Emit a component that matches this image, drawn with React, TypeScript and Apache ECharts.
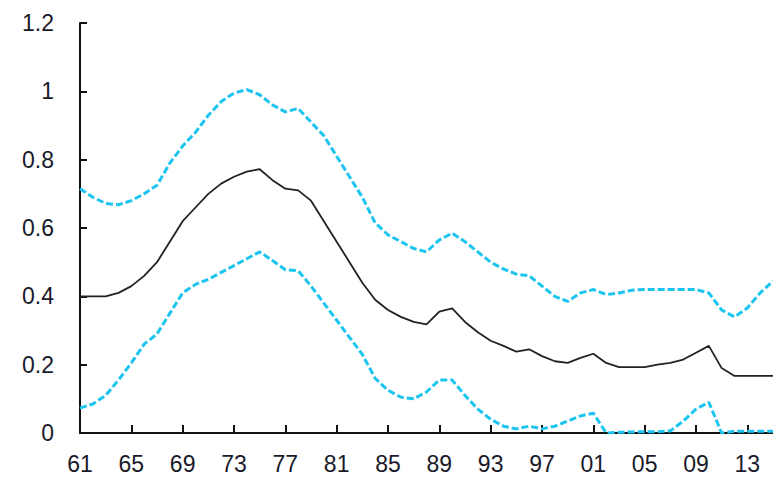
import React, { useEffect, useRef } from "react";
import * as echarts from "echarts";

const years: string[] = [];
for (let y = 1961; y <= 2015; y++) years.push(String(y));

const center = [
  0.40, 0.40, 0.40, 0.41, 0.43, 0.46, 0.50, 0.56, 0.62, 0.66,
  0.70, 0.73, 0.75, 0.765, 0.772, 0.74, 0.715, 0.71, 0.68, 0.62,
  0.56, 0.50, 0.44, 0.39, 0.36, 0.34, 0.325, 0.318, 0.355, 0.365,
  0.325, 0.295, 0.27, 0.255, 0.238, 0.245, 0.225, 0.21, 0.205, 0.22,
  0.232, 0.205, 0.193, 0.193, 0.193, 0.2, 0.205, 0.215, 0.235, 0.255,
  0.19, 0.167, 0.167, 0.167, 0.167,
];

const upper = [
  0.715, 0.69, 0.672, 0.668, 0.68, 0.70, 0.725, 0.79, 0.84, 0.88,
  0.93, 0.97, 0.995, 1.005, 0.99, 0.96, 0.94, 0.95, 0.91, 0.87,
  0.81, 0.75, 0.69, 0.615, 0.58, 0.56, 0.54, 0.53, 0.565, 0.585,
  0.56, 0.53, 0.50, 0.48, 0.465, 0.46, 0.43, 0.40, 0.385, 0.41,
  0.42, 0.405, 0.41, 0.418, 0.42, 0.42, 0.42, 0.42, 0.42, 0.41,
  0.36, 0.34, 0.366, 0.41, 0.445,
];

const lower = [
  0.073, 0.085, 0.11, 0.155, 0.205, 0.26, 0.29, 0.35, 0.41, 0.435,
  0.45, 0.47, 0.49, 0.51, 0.53, 0.505, 0.478, 0.475, 0.43, 0.38,
  0.33, 0.28, 0.23, 0.16, 0.125, 0.105, 0.1, 0.12, 0.155, 0.155,
  0.11, 0.07, 0.04, 0.02, 0.012, 0.02, 0.012, 0.02, 0.035, 0.05,
  0.058, 0.0, 0.002, 0.003, 0.004, 0.004, 0.006, 0.035, 0.07, 0.09,
  0.0, 0.005, 0.005, 0.005, 0.005,
];

const labelFont = "'Liberation Sans', Arial, sans-serif";

export default function App() {
  const ref = useRef<HTMLDivElement>(null);
  useEffect(() => {
    if (!ref.current) return;
    const chart = echarts.init(ref.current, undefined, { renderer: "svg" });
    chart.setOption({
      animation: false,
      backgroundColor: "#ffffff",
      grid: { left: 80, right: 0, top: 23, bottom: 50, containLabel: false },
      xAxis: {
        type: "category",
        data: years,
        boundaryGap: false,
        axisLine: { lineStyle: { color: "#111", width: 2 } },
        axisTick: { inside: true, length: 8, interval: 3, lineStyle: { color: "#111", width: 2 } },
        axisLabel: {
          interval: 3,
          margin: 19,
          formatter: (v: string) => v.slice(2),
          color: "#1a1a2a",
          fontSize: 23,
          fontFamily: labelFont,
        },
        splitLine: { show: false },
      },
      yAxis: {
        type: "value",
        min: 0,
        max: 1.2,
        interval: 0.2,
        axisLine: { show: true, lineStyle: { color: "#111", width: 2 } },
        axisTick: { show: true, inside: true, length: 7, lineStyle: { color: "#111", width: 2 } },
        axisLabel: {
          margin: 26,
          color: "#1a1a2a",
          fontSize: 23,
          fontFamily: labelFont,
        },
        splitLine: { show: false },
      },
      series: [
        {
          type: "line",
          data: upper,
          symbol: "none",
          lineStyle: { color: "#1cc4f0", width: 3, type: [7, 3] },
        },
        {
          type: "line",
          data: center,
          symbol: "none",
          lineStyle: { color: "#222", width: 1.8 },
        },
        {
          type: "line",
          data: lower,
          symbol: "none",
          lineStyle: { color: "#1cc4f0", width: 3, type: [7, 3] },
        },
      ],
    });
    return () => chart.dispose();
  }, []);
  return <div ref={ref} style={{ width: 773, height: 483, position: "absolute", left: 0, top: 0 }} />;
}
